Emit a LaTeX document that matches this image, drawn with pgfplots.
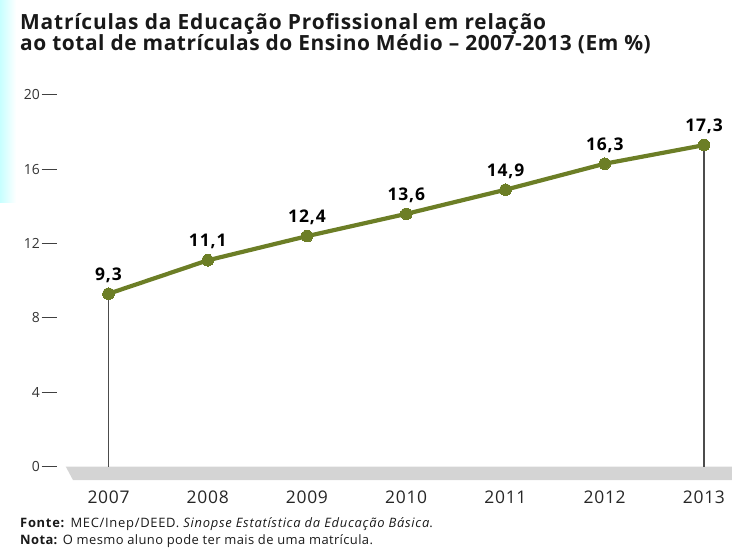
\documentclass[border=0pt]{standalone}
\usepackage{fontspec}
\setmainfont{Open Sans}
\usepackage{pgfplots}
\pgfplotsset{compat=1.18}
\definecolor{olivel}{RGB}{108,126,38}
\definecolor{bandgray}{RGB}{212,212,212}
\begin{document}
\begin{tikzpicture}
\useasboundingbox (0,0) rectangle (732bp,553bp);
\fill[left color=cyan!22, right color=white] (0,350bp) rectangle (16bp,553bp);
\node[anchor=base west, inner sep=0, font=\bfseries\fontsize{21}{22}\selectfont\addfontfeatures{LetterSpace=3.8}, text=black!90] at (20bp,523bp) {Matrículas da Educação Profissional em relação};
\node[anchor=base west, inner sep=0, font=\bfseries\fontsize{21}{22}\selectfont\addfontfeatures{LetterSpace=2.6}, text=black!90] at (20bp,502bp) {ao total de matrículas do Ensino Médio – 2007-2013 (Em \%)};
\node[anchor=base west, inner sep=0, font=\fontsize{13}{14}\selectfont\addfontfeatures{LetterSpace=5.5}, text=black!90] at (20bp,26bp) {\textbf{Fonte:} MEC/Inep/DEED. \textit{Sinopse Estatística da Educação Básica}.};
\node[anchor=base west, inner sep=0, font=\fontsize{13}{14}\selectfont\addfontfeatures{LetterSpace=3}, text=black!90] at (20bp,9bp) {\textbf{Nota:} O mesmo aluno pode ter mais de uma matrícula.};
\begin{axis}[
  at={(57bp,67.9bp)}, anchor=south west,
  scale only axis, width=675bp, height=408.7bp,
  xmin=2006.481, xmax=2013.282, ymin=-1, ymax=21,
  axis line style={draw=none},
  ytick={0,4,...,20}, ytick pos=left,
  tick align=outside, major tick length=15.5bp,
  ytick style={color=black!75, line width=1pt},
  yticklabel style={font=\fontsize{14}{15}\selectfont, text=black!80, inner sep=1.5bp},
  xtick={2007,...,2013}, xtick style={draw=none},
  xticklabel style={font=\fontsize{17.5}{18}\selectfont\addfontfeatures{LetterSpace=4}, text=black!85, anchor=base, yshift=-2.7bp},
  /pgf/number format/1000 sep={},
  /pgf/number format/assume math mode=true,
  clip=false,
]
\fill[bandgray] (axis cs:2006.569,0) -- (axis cs:2013.3,0) -- (axis cs:2013.3,-0.73) -- (axis cs:2006.642,-0.73) -- cycle;
\addplot[ycomb, draw=black!70, line width=1.1pt, no marks] coordinates {(2007,9.3) (2013,17.3)};
\addplot[olivel, line width=4.2pt, line join=round, mark=*, mark size=5.8bp,
  mark options={fill=olivel, draw=olivel, line width=0pt},
  nodes near coords={\pgfmathprintnumber[use comma,fixed,fixed zerofill,precision=1]{\pgfplotspointmeta}},
  nodes near coords style={font=\bfseries\fontsize{17.5}{18}\selectfont\addfontfeatures{LetterSpace=5}, text=black, anchor=base, yshift=13.5bp}]
  coordinates {(2007,9.3) (2008,11.1) (2009,12.4) (2010,13.6) (2011,14.9) (2012,16.3) (2013,17.3)};
\end{axis}
\end{tikzpicture}
\end{document}
